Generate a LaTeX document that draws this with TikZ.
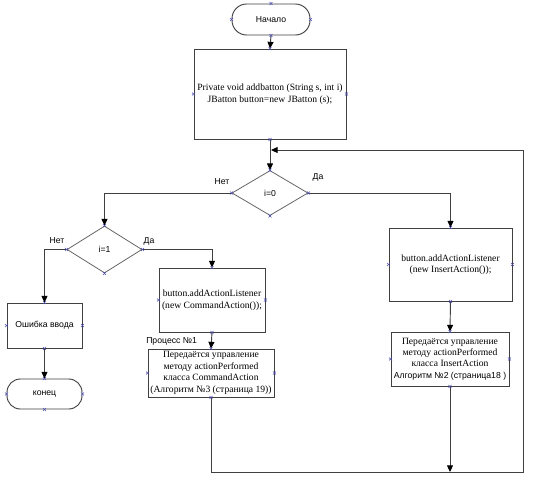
\documentclass[tikz,border=0pt]{standalone}
\usepackage{fontspec}
\setmainfont{Liberation Serif}
\newfontfamily\arialf{Liberation Sans}
\usetikzlibrary{shapes.geometric,arrows.meta,calc}
\begin{document}
\begin{tikzpicture}[x=0.75pt,y=-0.75pt,
  line/.style={draw=black!75, line width=0.7pt},
  arr/.style={line, -{Triangle[length=5pt,width=4.5pt,color=black]}},
  box/.style={draw=black!75, line width=0.7pt, rectangle, inner sep=0pt, align=center, font=\fontsize{7.2}{8.6}\selectfont},
  sbox/.style={box, font=\arialf\fontsize{6.5}{8}\selectfont},
  term/.style={sbox, rounded corners=11pt},
  dec/.style={draw=black!60, line width=0.6pt, diamond, inner sep=0pt, font=\arialf\fontsize{6.5}{8}\selectfont},
  lbl/.style={font=\arialf\fontsize{6.5}{8}\selectfont, inner sep=0pt},
  mk/.style={draw=blue!40!gray, line width=0.4pt}
]
\useasboundingbox (0,0) rectangle (533,482);
\fill[white] (0,0) rectangle (533,482);

\node[term, minimum width=58.5pt, minimum height=23.25pt] (start) at (271,19.5) {Начало};
\node[box, minimum width=114pt, minimum height=67.5pt] (b1) at (270,94) {Private void addbatton (String s, int i)\\JBatton button=new JBatton (s);};
\node[dec, minimum width=57pt, minimum height=33.75pt] (d0) at (270,193) {i=0};
\node[dec, minimum width=56.25pt, minimum height=35.25pt] (d1) at (104.5,249.5) {i=1};
\node[sbox, minimum width=56.25pt, minimum height=33.75pt] (err) at (44.5,325.5) {Ошибка ввода};
\node[term, minimum width=56.25pt, minimum height=22.5pt, rounded corners=10pt] (fin) at (44.5,394) {конец};
\node[box, minimum width=79.5pt, minimum height=48pt] (c1) at (212,300) {button.addActionListener\\(new CommandAction());};
\node[box, minimum width=94.5pt, minimum height=36pt] (c2) at (211,373) {Передаётся управление\\методу actionPerformed\\класса CommandAction\\(Алгоритм №3 (страница 19))};
\node[box, minimum width=92.25pt, minimum height=54.75pt] (i1) at (450.5,264.5) {button.addActionListener\\(new InsertAction());};
\node[box, minimum width=88.5pt, minimum height=40.5pt] (i2) at (450,359) {Передаётся управление\\методу actionPerformed\\класса InsertAction\\{\arialf\fontsize{6.5}{8}\selectfont Алгоритм №2 (страница18 )}};

\node[lbl] (nno0) at (222,182) {Нет};
\node[lbl] (nyes0) at (318,177) {Да};
\node[lbl] (nno1) at (57,241) {Нет};
\node[lbl] (nyes1) at (149,241) {Да};
\node[lbl, anchor=west] (proc) at (146,341) {Процесс №1};

\coordinate (jin) at (271,150);
\coordinate (jbl) at (211,472);
\coordinate (jbm) at (450,472);
\coordinate (jbr) at (523,472);
\coordinate (jtr) at (523,150);

\draw[arr] (start.south) -- (b1.north);
\draw[arr] (b1.south) -- (d0.north);
\draw[arr] (d0.west) -| (d1.north);
\draw[arr] (d0.east) -| (i1.north);
\draw[arr] (d1.west) -| (err.north);
\draw[arr] (d1.east) -| (c1.north);
\draw[arr] (err.south) -- (fin.north);
\draw[arr] (c1.south) -- (c2.north);
\draw[arr] (i1.south) -- (i2.north);
\draw[arr] (i2.south) -- (jbm);
\draw[arr] (c2.south) -- (jbl) -- (jbr) -- (jtr) -- (jin);

\foreach \n in {start,b1,d0,d1,err,fin,c1,c2,i1,i2}{
  \foreach \a in {north,south,east,west}{
    \draw[mk] ($(\n.\a)+(-1.5,-1.5)$) -- ++(3,3);
    \draw[mk] ($(\n.\a)+(-1.5,1.5)$) -- ++(3,-3);
  }
}
\end{tikzpicture}
\end{document}
